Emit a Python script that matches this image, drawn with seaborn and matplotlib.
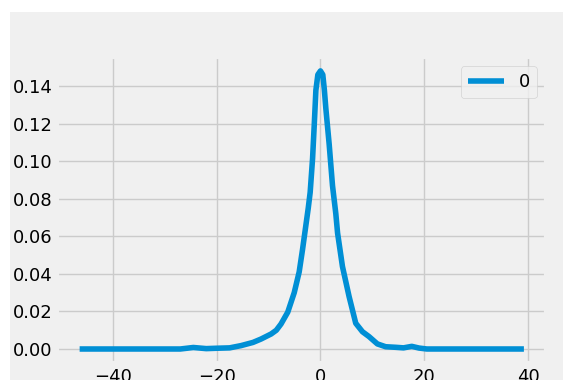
import numpy as np
import pandas as pd
import matplotlib
matplotlib.use("Agg")
import matplotlib.pyplot as plt
import seaborn as sns
from matplotlib.patches import Rectangle

# density curve
x_vals = [-46.4, -40.0, -30.0, -27.0, -24.5, -22.0, -20.0, -17.5, -15.3, -13.0,
          -11.45, -9.5, -8.5, -7.6, -6.3, -5.05, -4.1, -3.45, -2.8, -2.35,
          -1.98, -1.52, -1.2, -0.88, -0.5, 0.0, 0.45, 0.75, 1.04, 1.68,
          2.32, 2.96, 3.3, 4.24, 5.52, 6.8, 8.09, 9.36, 10.97, 12.56,
          14.5, 16.0, 17.6, 19.0, 20.5, 30.0, 39.2]
density = [0.0, 0.0, 0.0, 0.0, 0.0008, 0.0002, 0.0004, 0.0006, 0.0018, 0.0035,
           0.0053, 0.008, 0.010, 0.0133, 0.0196, 0.030, 0.041, 0.053, 0.066, 0.075,
           0.0834, 0.1013, 0.119, 0.1377, 0.146, 0.148, 0.146, 0.138, 0.128, 0.109,
           0.087, 0.072, 0.0617, 0.0439, 0.0279, 0.0137, 0.0092, 0.0066, 0.0027, 0.0012,
           0.0009, 0.0006, 0.0014, 0.0005, 0.0, 0.0, 0.0]

plt.style.use("fivethirtyeight")
plt.rcParams["font.family"] = ["DejaVu Sans"]

df = pd.DataFrame({"x": x_vals, "density": density})

fig = plt.figure(figsize=(5.63, 3.80), dpi=100)
fig.patch.set_facecolor("white")
# gray backdrop, reference image is cropped with a white strip at left/top
bg = Rectangle((10 / 563, 0), 1, 1 - 12 / 380, transform=fig.transFigure,
               facecolor="#f0f0f0", edgecolor="none", zorder=-10)
fig.add_artist(bg)
ax = fig.add_axes([0.102, 0.045, 0.868, 0.805])
ax.set_facecolor("#f0f0f0")

sns.lineplot(data=df, x="x", y="density", ax=ax, color="#008fd5", linewidth=4, label="0")
ax.set_xlabel("")
ax.set_ylabel("")
ax.set_xticks([-40, -20, 0, 20, 40])
ax.set_yticks([0.0, 0.02, 0.04, 0.06, 0.08, 0.10, 0.12, 0.14])
ax.tick_params(labelsize=13)
ax.legend(loc="upper right", fontsize=13)

fig.savefig("out.png", dpi=100, facecolor=fig.get_facecolor())
